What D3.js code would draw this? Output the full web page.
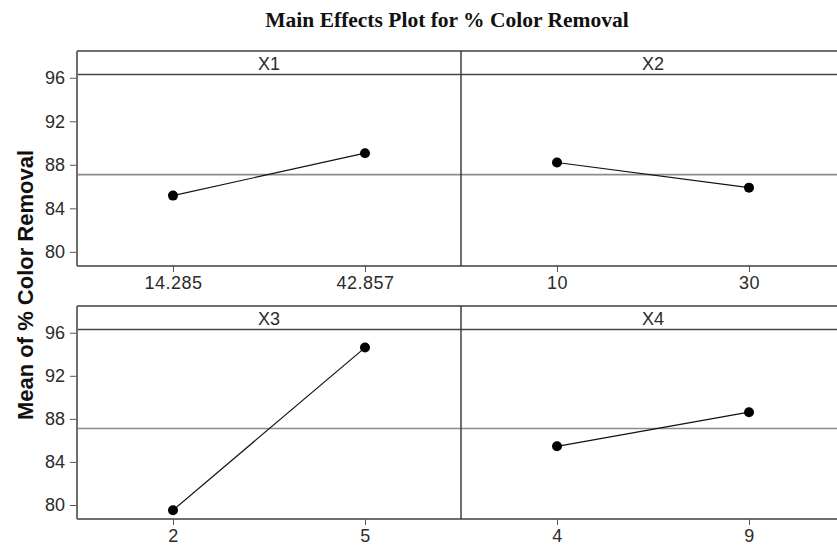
<!DOCTYPE html>
<html>
<head>
<meta charset="utf-8">
<script src="https://cdn.jsdelivr.net/npm/d3@7"></script>
<style>
  body { margin: 0; background: #fff; }
  svg { display: block; font-family: "Liberation Sans", Arial, sans-serif; }
</style>
</head>
<body>
<svg id="chart" width="837" height="550"></svg>
<script>
// Factor names and their two levels
const factors = ["X1", "X2", "X3", "X4"];
const levelLabels = [["14.285", "42.857"], ["10", "30"], ["2", "5"], ["4", "9"]];
// Mean % colour removal at each level
const meansX1 = [85.17, 89.07];
const meansX2 = [88.21, 85.90];
const meansX3 = [79.52, 94.62];
const meansX4 = [85.45, 88.62];
const grandMean = 87.1;
const yTicks = [80, 84, 88, 92, 96];

const allMeans = [meansX1, meansX2, meansX3, meansX4];

const svg = d3.select("#chart");

// Panel layout: two rows, two columns
const colLeft = [77, 461];
const colWidth = 384;
const rows = [
  { top: 51, strip: 74.5, bottom: 266 },
  { top: 306, strip: 329.5, bottom: 519 }
];
const yDomain = [78.7, 96.3];

const frameColor = "#6e6e6e";
const textColor = "#2b2b2b";
const tickFont = "18px";

// Title
svg.append("text")
  .attr("x", 447).attr("y", 27)
  .attr("text-anchor", "middle")
  .style("font-family", "'Liberation Serif', 'Times New Roman', serif")
  .style("font-weight", "bold")
  .style("font-size", "21.5px")
  .attr("fill", "#111")
  .text("Main Effects Plot for % Color Removal");

// Y axis title
svg.append("text")
  .attr("transform", "translate(33,285) rotate(-90)")
  .attr("text-anchor", "middle")
  .style("font-weight", "bold")
  .style("font-size", "22px")
  .attr("fill", "#111")
  .text("Mean of % Color Removal");

factors.forEach((name, i) => {
  const row = rows[Math.floor(i / 2)];
  const col = i % 2;
  const x0 = colLeft[col];

  const x = d3.scalePoint()
    .domain(levelLabels[i])
    .range([x0 + colWidth * 0.25, x0 + colWidth * 0.75]);
  const y = d3.scaleLinear().domain(yDomain).range([row.bottom, row.strip]);

  const g = svg.append("g");

  // Mean reference line
  g.append("line")
    .attr("x1", x0).attr("x2", x0 + colWidth)
    .attr("y1", y(grandMean)).attr("y2", y(grandMean))
    .attr("stroke", "#8c8c8c").attr("stroke-width", 1.6);

  // Strip header lines
  g.append("line")
    .attr("x1", x0).attr("x2", x0 + colWidth)
    .attr("y1", row.top).attr("y2", row.top)
    .attr("stroke", frameColor).attr("stroke-width", 2);
  g.append("line")
    .attr("x1", x0).attr("x2", x0 + colWidth)
    .attr("y1", row.strip).attr("y2", row.strip)
    .attr("stroke", "#444").attr("stroke-width", 1.6);
  g.append("line")
    .attr("x1", x0).attr("x2", x0 + colWidth)
    .attr("y1", row.bottom).attr("y2", row.bottom)
    .attr("stroke", frameColor).attr("stroke-width", 2);

  // Strip label
  g.append("text")
    .attr("x", x0 + colWidth / 2).attr("y", row.top + 19)
    .attr("text-anchor", "middle")
    .style("font-size", tickFont)
    .attr("fill", textColor)
    .text(name);

  // X axis
  const xAxis = g.append("g")
    .attr("transform", `translate(0,${row.bottom})`)
    .call(d3.axisBottom(x).tickSize(6).tickPadding(4));
  xAxis.select(".domain").remove();
  xAxis.selectAll(".tick line").attr("stroke", "#555");
  xAxis.selectAll(".tick text")
    .style("font-size", tickFont)
    .style("letter-spacing", "0.5px")
    .style("font-family", "'Liberation Sans', Arial, sans-serif")
    .attr("fill", textColor);

  // Y axis on left panels only
  if (col === 0) {
    const yAxis = g.append("g")
      .attr("transform", `translate(${x0},0)`)
      .call(d3.axisLeft(y).tickValues(yTicks).tickSize(7).tickPadding(5));
    yAxis.select(".domain").remove();
    yAxis.selectAll(".tick line").attr("stroke", "#555");
    yAxis.selectAll(".tick text")
      .style("font-size", tickFont)
      .style("font-family", "'Liberation Sans', Arial, sans-serif")
      .attr("fill", textColor);
    // left frame edge
    g.append("line")
      .attr("x1", x0).attr("x2", x0)
      .attr("y1", row.top).attr("y2", row.bottom)
      .attr("stroke", frameColor).attr("stroke-width", 2);
  } else {
    // divider between panels
    g.append("line")
      .attr("x1", x0).attr("x2", x0)
      .attr("y1", row.top).attr("y2", row.bottom)
      .attr("stroke", "#333").attr("stroke-width", 1.4);
  }

  // Means line and points
  const pts = levelLabels[i].map((lv, k) => [x(lv), y(allMeans[i][k])]);
  g.append("path")
    .attr("d", d3.line()(pts))
    .attr("fill", "none")
    .attr("stroke", "#111").attr("stroke-width", 1.2);
  g.selectAll("circle")
    .data(pts)
    .join("circle")
    .attr("cx", d => d[0]).attr("cy", d => d[1])
    .attr("r", 5)
    .attr("fill", "#000");
});
</script>
</body>
</html>
